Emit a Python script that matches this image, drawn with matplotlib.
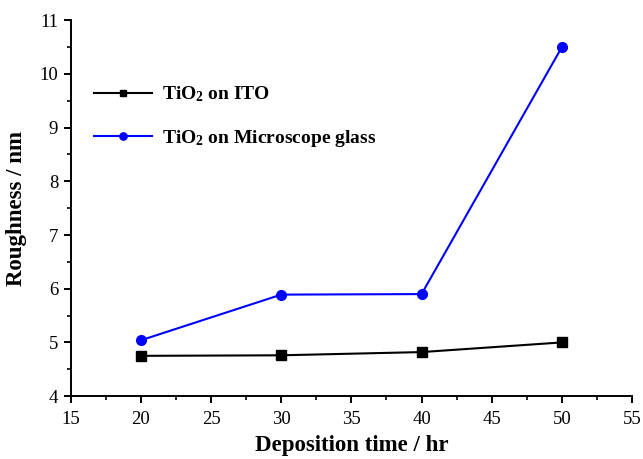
import matplotlib
matplotlib.use("Agg")
import matplotlib.pyplot as plt
from matplotlib.ticker import MultipleLocator

# Deposition time (hr)
time_hr = [20, 30, 40, 50]
# Roughness (nm)
rough_ito = [4.75, 4.76, 4.82, 5.0]
rough_glass = [5.04, 5.89, 5.90, 10.5]

plt.rcParams["font.family"] = ["Liberation Serif", "DejaVu Serif"]
plt.rcParams["mathtext.fontset"] = "custom"
plt.rcParams["mathtext.rm"] = "Liberation Serif"
plt.rcParams["mathtext.bf"] = "Liberation Serif:bold"

fig = plt.figure(figsize=(6.43, 4.59), dpi=100)
ax = fig.add_axes([0.110, 0.137, 0.873, 0.819])

ax.plot(time_hr, rough_ito, color="black", linewidth=1.5,
        marker="s", markersize=6.5, label=r"$\mathbf{TiO_2}$ on ITO")
ax.plot(time_hr, rough_glass, color="#0000ff", linewidth=1.5,
        marker="o", markersize=7, label=r"$\mathbf{TiO_2}$ on Microscope glass")

ax.set_xlim(15, 55)
ax.set_ylim(4, 11)
ax.xaxis.set_major_locator(MultipleLocator(5))
ax.xaxis.set_minor_locator(MultipleLocator(2.5))
ax.yaxis.set_major_locator(MultipleLocator(1))
ax.yaxis.set_minor_locator(MultipleLocator(0.5))

ax.spines["top"].set_visible(False)
ax.spines["right"].set_visible(False)
for s in ("left", "bottom"):
    ax.spines[s].set_linewidth(1.4)

ax.tick_params(axis="both", which="major", direction="out", length=5,
               width=1.4, labelsize=13.5, pad=4)
ax.tick_params(axis="x", which="major", pad=6)
ax.tick_params(axis="both", which="minor", direction="out", length=3,
               width=1.2)

ax.set_xlabel("Deposition time / hr", fontsize=16.5, fontweight="bold", labelpad=5)
ax.set_ylabel("Roughness / nm", fontsize=16.5, fontweight="bold", labelpad=9)

leg = ax.legend(loc="upper left", bbox_to_anchor=(0.01, 0.875), frameon=False,
                prop={"weight": "bold", "size": 14}, handlelength=3.0,
                labelspacing=1.2, handletextpad=0.5, markerscale=0.75)

fig.savefig("out.png", dpi=100, facecolor="white")
